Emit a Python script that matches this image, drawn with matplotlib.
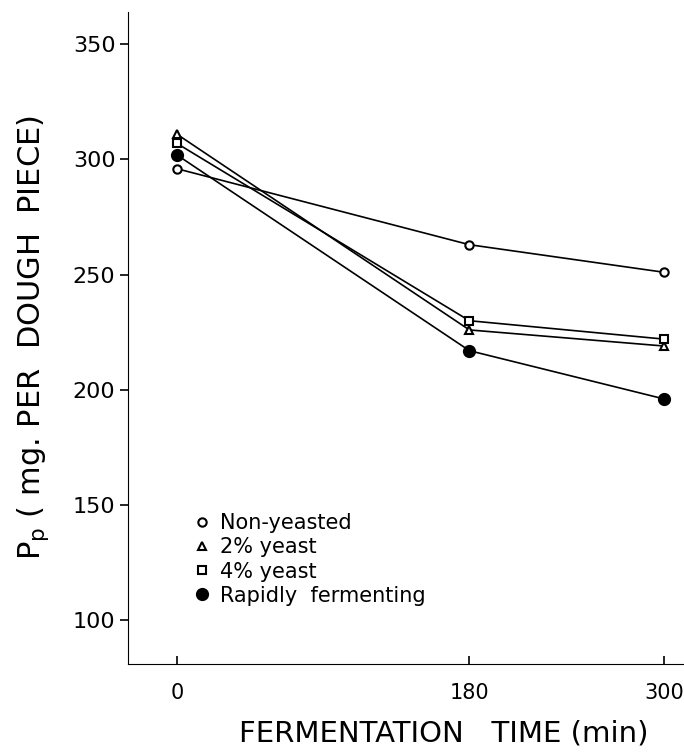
import numpy as np
import matplotlib
matplotlib.use('Agg')
from matplotlib import pyplot as plt

plt.rcParams['font.family'] = ['DejaVu Sans']

# fermentation time (min) and Pp values
time = [0, 180, 300]
non_yeasted = [296, 263, 251]
yeast_2 = [311, 226, 219]
yeast_4 = [307, 230, 222]
rapid = [302, 217, 196]

labels = ['Non-yeasted', '2% yeast', '4% yeast', 'Rapidly  fermenting']
xticks = [0, 180, 300]
yticks = [100, 150, 200, 250, 300, 350]

fig = plt.figure(figsize=(6.84, 7.53), dpi=100)
ax = fig.add_axes([128/684, 1 - 664/753, 556/684, (664-12)/753])

series = [non_yeasted, yeast_2, yeast_4, rapid]
markers = ['o', '^', 's', 'o']
faces = ['white', 'white', 'white', 'black']
sizes = [6, 6, 6, 8]
for s, m, fc, ms, lab in zip(series, markers, faces, sizes, labels):
    ax.plot(time, s, color='black', lw=1.2, marker=m, mfc=fc, mec='black',
            mew=1.5, ms=ms, label=lab)

ax.set_xlim(-30, 312)
ax.set_ylim(81, 364)
ax.set_xticks(xticks)
ax.set_yticks(yticks)
ax.spines['top'].set_visible(False)
ax.spines['right'].set_visible(False)
ax.tick_params(axis='y', direction='out', length=6, width=1.2, labelsize=16, pad=3)
ax.tick_params(axis='x', direction='in', length=6, width=1.2, labelsize=15, pad=14)

ax.set_xlabel('FERMENTATION   TIME (min)', fontsize=21)
ax.xaxis.set_label_coords(0.568, -0.085)
ax.set_ylabel(r'P$_\mathregular{p}$ ( mg. PER  DOUGH  PIECE)', fontsize=22, labelpad=16)

# legend with line-less markers
leg_handles = [plt.Line2D([], [], ls='none', marker=m, mfc=fc, mec='black', mew=1.5, ms=ms)
               for m, fc, ms in zip(markers, faces, sizes)]
ax.legend(leg_handles, labels, loc='upper left', bbox_to_anchor=(0.08, 0.26),
          frameon=False, fontsize=15, handletextpad=0.4, labelspacing=0.2,
          handlelength=1.0)

plt.savefig('out.png', dpi=100)
